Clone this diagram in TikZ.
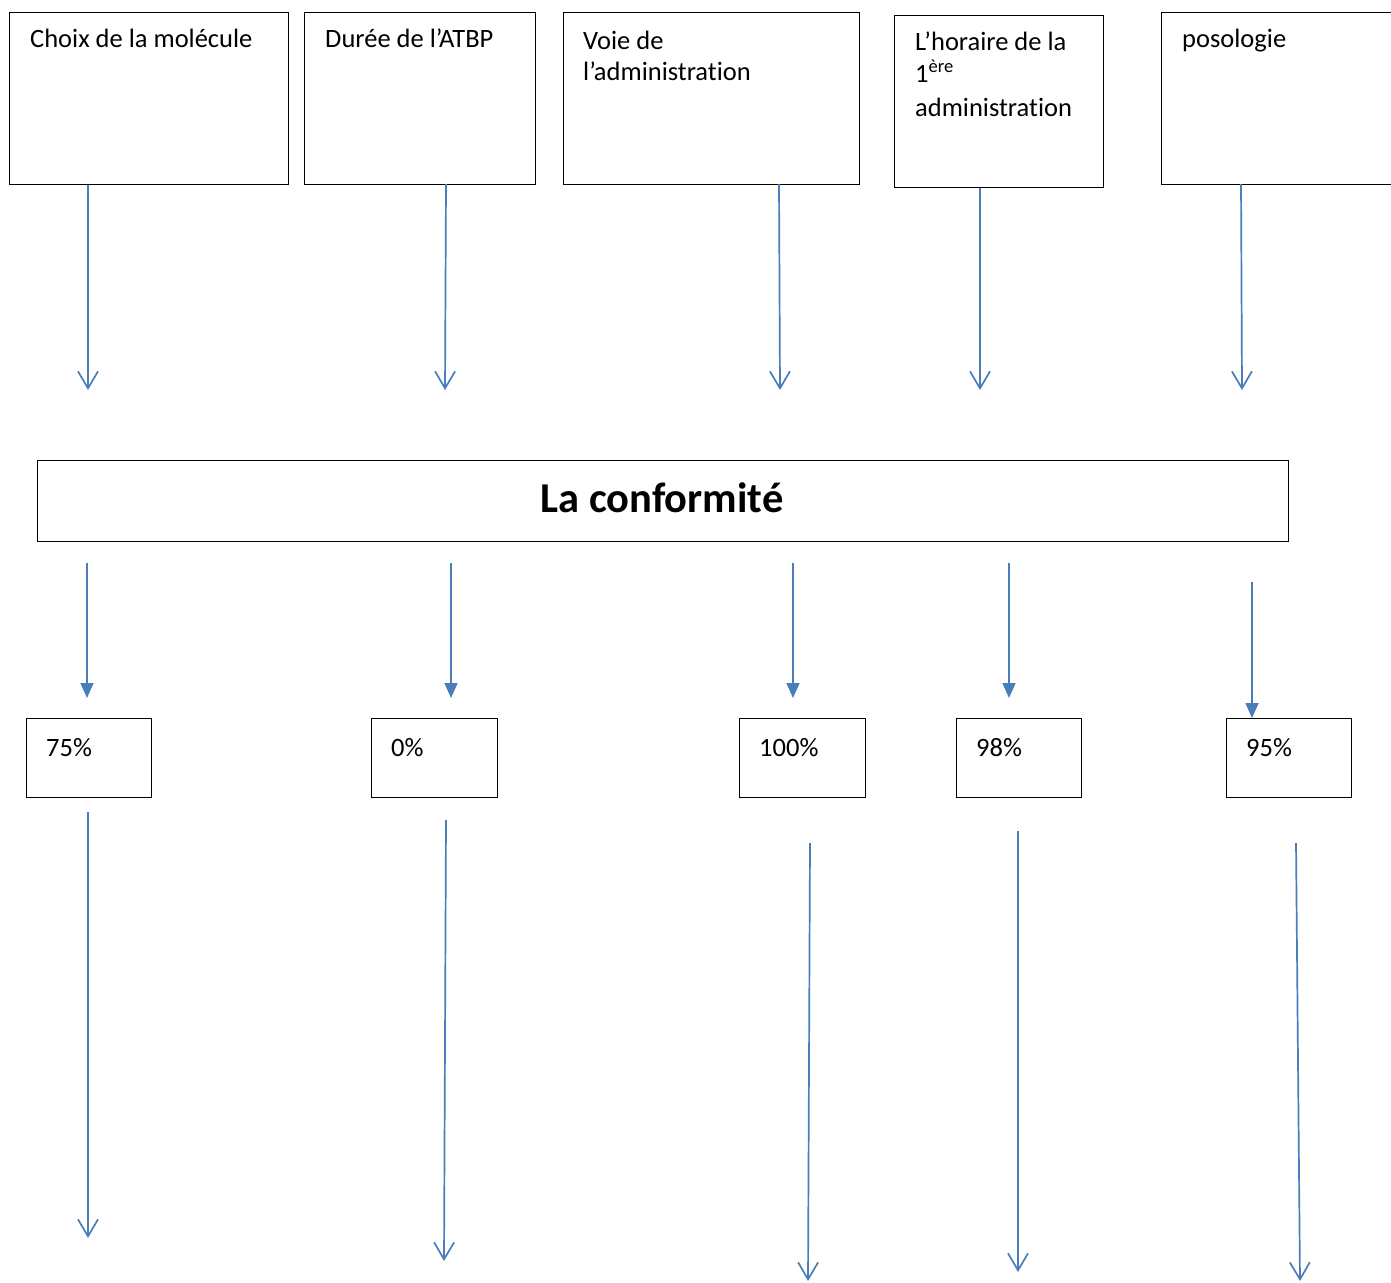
\documentclass[tikz,border=0pt]{standalone}
\usepackage{fontspec}
\setmainfont[Ligatures=NoCommon]{Carlito}
\usetikzlibrary{arrows.meta}
\definecolor{arrblue}{HTML}{4A7EBB}
\begin{document}
\begin{tikzpicture}[x=1pt,y=-1pt,
  box/.style={draw=black,line width=1pt,anchor=north west,inner sep=0pt},
  txt/.style={anchor=base west,inner sep=0pt,font=\fontsize{26.5}{32}\selectfont},
  openarrow/.style={draw=arrblue,line width=1.7pt,-{Straight Barb[length=17pt,width=20pt]}},
  fillarrow/.style={draw=arrblue,line width=1.7pt,-{Triangle[length=15pt,width=13pt]}}]
\clip (0,0) rectangle (1391,1282);
\fill[white] (0,0) rectangle (1391,1282);
% top boxes
\node[box,minimum width=279,minimum height=172] (b1) at (9,12) {};
\node[box,minimum width=231,minimum height=172] (b2) at (304,12) {};
\node[box,minimum width=296,minimum height=172] (b3) at (563,12) {};
\node[box,minimum width=209,minimum height=172] (b4) at (894,15) {};
\node[box,minimum width=260,minimum height=172] (b5) at (1161,12) {};
\node[txt] (t1) at (30,47) {Choix de la molécule};
\node[txt] (t2) at (325,47) {Durée de l’ATBP};
\node[txt] (t3a) at (583,49) {Voie de};
\node[txt] (t3b) at (583,80) {l’administration};
\node[txt] (t4a) at (915,50) {L’horaire de la};
\node[txt] (t4b) at (915,82) {1\textsuperscript{ère}};
\node[txt] (t4c) at (915,116) {administration};
\node[txt] (t5) at (1182,47) {posologie};
% top arrows
\coordinate (e1) at (88,390);
\coordinate (e2) at (445,390);
\coordinate (e3) at (780,390);
\coordinate (e4) at (980,390);
\coordinate (e5) at (1242,390);
\coordinate (s2) at (446,184);
\coordinate (s3) at (779,184);
\coordinate (s5) at (1241,184);
\draw[openarrow] (b1.south west -| e1) -- (e1);
\draw[openarrow] (s2) -- (e2);
\draw[openarrow] (s3) -- (e3);
\draw[openarrow] (b4.south west -| e4) -- (e4);
\draw[openarrow] (s5) -- (e5);
% conformite
\node[box,minimum width=1251,minimum height=81] (conf) at (37,460) {};
\node[anchor=center,inner sep=0pt,font=\fontsize{42.5}{48}\selectfont\bfseries] (ct) at (662,498) {La conformité};
% middle arrows
\coordinate (m1) at (87,563); \coordinate (n1) at (87,698);
\coordinate (m2) at (451,563); \coordinate (n2) at (451,698);
\coordinate (m3) at (793,563); \coordinate (n3) at (793,698);
\coordinate (m4) at (1009,563); \coordinate (n4) at (1009,698);
\coordinate (m5) at (1252,582);
\draw[fillarrow] (m1) -- (n1);
\draw[fillarrow] (m2) -- (n2);
\draw[fillarrow] (m3) -- (n3);
\draw[fillarrow] (m4) -- (n4);
% percent boxes
\node[box,minimum width=125,minimum height=79] (p1) at (26,718) {};
\node[box,minimum width=126,minimum height=79] (p2) at (371,718) {};
\node[box,minimum width=126,minimum height=79] (p3) at (739,718) {};
\node[box,minimum width=125,minimum height=79] (p4) at (956,718) {};
\node[box,minimum width=125,minimum height=79] (p5) at (1226,718) {};
\draw[fillarrow] (m5) -- (p5.north west -| m5);
\node[txt] (q1) at (46,756) {75\%};
\node[txt] (q2) at (391,756) {0\%};
\node[txt] (q3) at (759,756) {100\%};
\node[txt] (q4) at (976,756) {98\%};
\node[txt] (q5) at (1246,756) {95\%};
% bottom arrows
\coordinate (u1) at (88,812); \coordinate (v1) at (88,1238);
\coordinate (u2) at (446,820); \coordinate (v2) at (444,1261);
\coordinate (u3) at (810,843); \coordinate (v3) at (808,1281);
\coordinate (u4) at (1018,831); \coordinate (v4) at (1018,1272);
\coordinate (u5) at (1296,843); \coordinate (v5) at (1300,1281);
\draw[openarrow] (u1) -- (v1);
\draw[openarrow] (u2) -- (v2);
\draw[openarrow] (u3) -- (v3);
\draw[openarrow] (u4) -- (v4);
\draw[openarrow] (u5) -- (v5);
\end{tikzpicture}
\end{document}
